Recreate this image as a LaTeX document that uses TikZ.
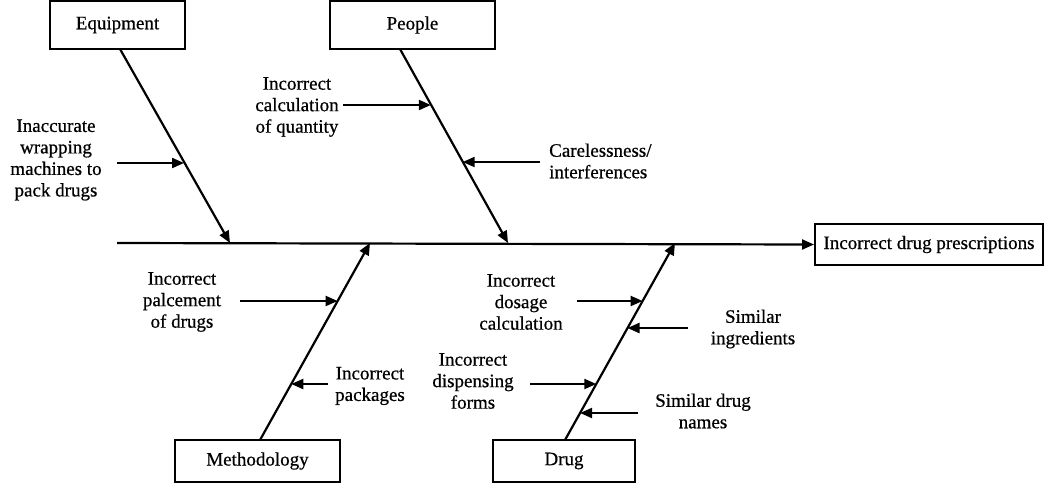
\documentclass[tikz,border=0pt]{standalone}
\usepackage{fontspec}
\setmainfont{Liberation Serif}
\newfontfamily\heavy[FakeBold=0.6]{Liberation Serif}
\usetikzlibrary{arrows.meta}
\begin{document}
\begin{tikzpicture}[x=1pt,y=-1pt,
  txt/.style={font=\fontsize{19}{21.5}\heavy, align=center, inner sep=0pt},
  catbox/.style={draw, line width=2pt, font=\fontsize{19}{21.5}\heavy, inner sep=0pt},
  bone/.style={line width=2.2pt, -{Triangle[length=12pt,width=10pt]}},
  cause/.style={line width=2.2pt, -{Triangle[length=12pt,width=10pt]}}
]
\useasboundingbox (0,0) rectangle (1044,483);
% boxes
\node[catbox, minimum width=135pt, minimum height=48pt] (eq) at (117.5,25) {Equipment};
\node[catbox, minimum width=165pt, minimum height=48pt] (pp) at (412.5,25) {People};
\node[catbox, minimum width=165pt, minimum height=42pt] (me) at (257.5,461) {Methodology};
\node[catbox, minimum width=142pt, minimum height=42pt] (dr) at (564,461) {Drug};
\node[catbox, minimum width=228pt, minimum height=41pt] (ef) at (929,244.5) {Incorrect drug prescriptions};
% spine
\coordinate (s0) at (117,243);
\draw[bone] (s0) -- (ef.west);
% bones
\coordinate (eqs) at (120,49);
\coordinate (eqe) at (230,243);
\coordinate (pps) at (400,49);
\coordinate (ppe) at (508,243);
\coordinate (mes) at (260,440);
\coordinate (mee) at (370,243);
\coordinate (drs) at (565,440);
\coordinate (dre) at (675,243);
\draw[bone] (eqs) -- (eqe);
\draw[bone] (pps) -- (ppe);
\draw[bone] (mes) -- (mee);
\draw[bone] (drs) -- (dre);
% labels
\node[txt] (c1) at (56,160) {Inaccurate\\wrapping\\machines to\\pack drugs};
\node[txt] (c2) at (297,107) {Incorrect\\calculation\\of quantity};
\node[txt, align=left, anchor=west] (c3) at (549,161) {Carelessness/\\interferences};
\node[txt] (c4) at (182,302) {Incorrect\\palcement\\of drugs};
\node[txt] (c5) at (370,386) {Incorrect\\packages};
\node[txt] (c6) at (521,302) {Incorrect\\dosage\\calculation};
\node[txt] (c7) at (753,329) {Similar\\ingredients};
\node[txt] (c8) at (473,381) {Incorrect\\dispensing\\forms};
\node[txt] (c9) at (703,411) {Similar drug\\names};
% cause arrows
\coordinate (a1s) at (117,163); \coordinate (a1e) at (184,163);
\coordinate (a2s) at (343,105); \coordinate (a2e) at (430.8,105);
\coordinate (a3s) at (540,162); \coordinate (a3e) at (462.7,162);
\coordinate (a4s) at (240,301); \coordinate (a4e) at (337.6,301);
\coordinate (a5s) at (328,384); \coordinate (a5e) at (291.3,384);
\coordinate (a6s) at (577,301); \coordinate (a6e) at (642.6,301);
\coordinate (a7s) at (688,328); \coordinate (a7e) at (627.5,328);
\coordinate (a8s) at (530,384); \coordinate (a8e) at (596.3,384);
\coordinate (a9s) at (638,413); \coordinate (a9e) at (580.1,413);
\foreach \i in {1,...,9} {\draw[cause] (a\i s) -- (a\i e);}
\end{tikzpicture}
\end{document}
